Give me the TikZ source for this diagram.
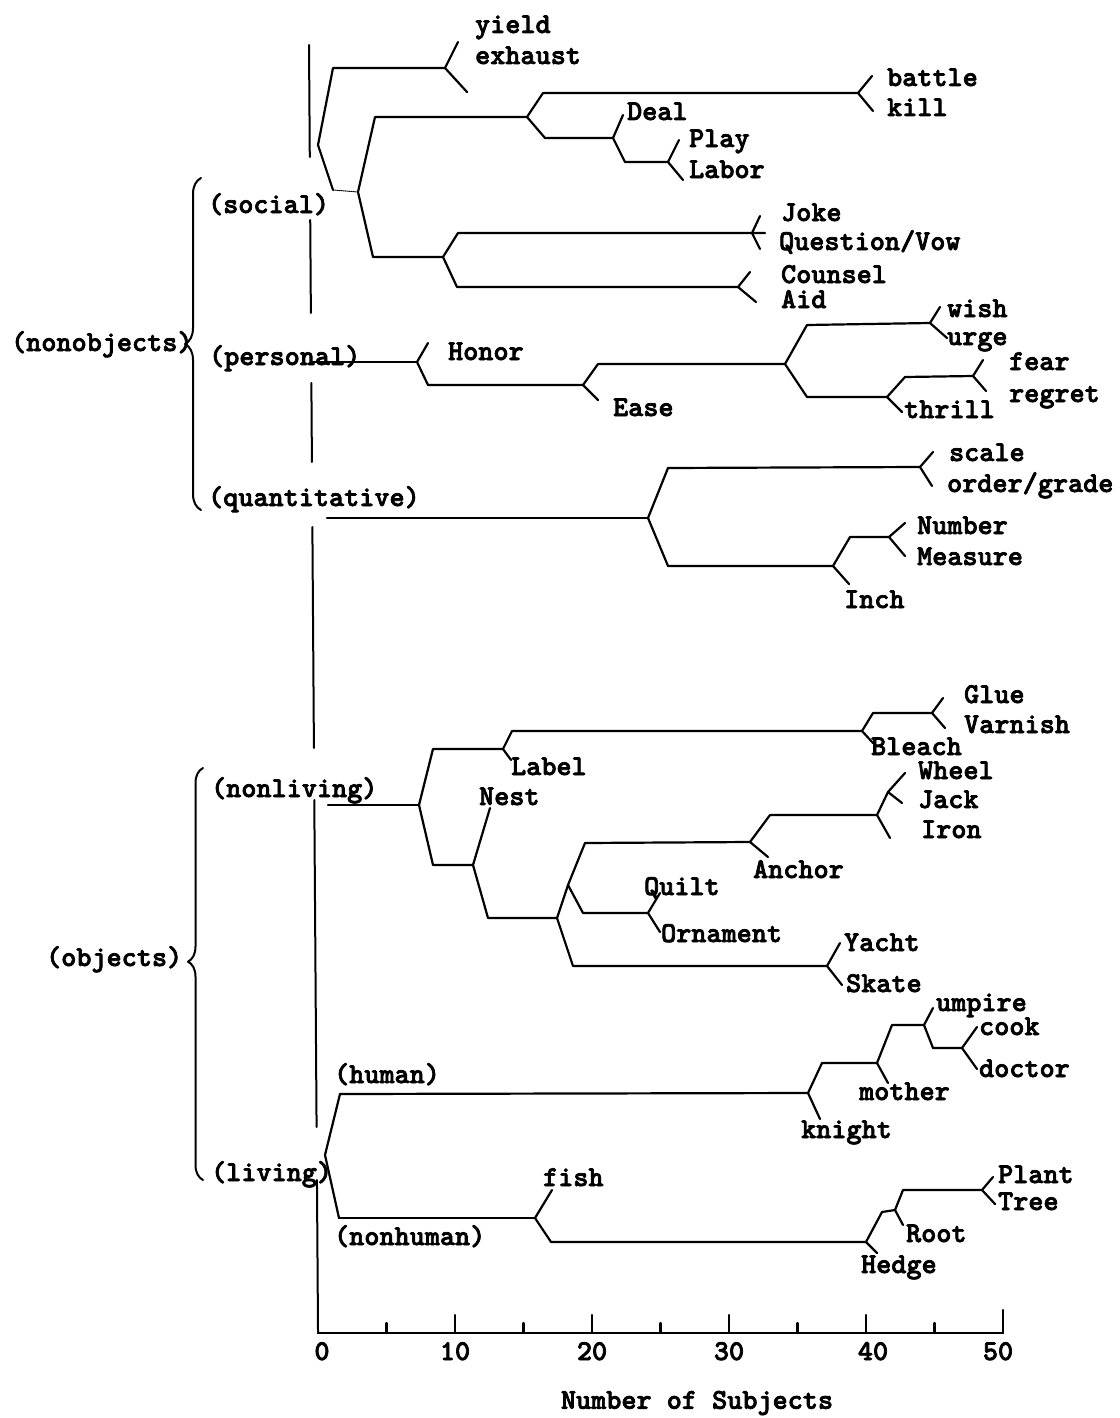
\documentclass[tikz,border=0pt]{standalone}
\usepackage{fontspec}
\newfontfamily\typer{lmmonolt10-bold.otf}[FakeBold=2.5]
\usetikzlibrary{decorations.pathreplacing}

\begin{document}
\begin{tikzpicture}[x=1pt, y=-1pt, line width=2.2pt, line cap=round, line join=round,
    every node/.style={font=\typer\fontsize{28.8}{30}\selectfont, inner sep=0pt},
    leaf/.style={anchor=base west, yshift=-8pt}]
    \useasboundingbox (0,0) rectangle (1119,1418);

    % Zero line, broken at the group labels
    \foreach \a/\b in {45/157,220/313,383/462,527/748,800/1127,1180/1333}
        \draw[line width=2pt] ({309+0.007*(\a-45)},\a) -- ({309+0.007*(\b-45)},\b);

    % Axis
    \draw (318,1333) -- (1003,1333);
    \foreach \n/\dx in {0/4,10/0,20/0,30/0,40/7,50/-5} {
        \draw ({318+13.7*\n},1333) -- ({318+13.7*\n},1315);
        \node[anchor=base, yshift=-10pt] (t\n) at ({318+13.7*\n+\dx},1350) {\n};
    }
    \draw (1003,1315) -- (1003,1310);
    \foreach \n in {5,15,...,45}
        \draw ({318+13.7*\n},1333) -- ({318+13.7*\n},1323);
    \node (xlab) at (697,1403) {Number of Subjects};

    % Braces
    \draw[line width=2pt, decorate, decoration={brace, amplitude=16pt}] (201,510) -- (201,178);
    \draw[line width=2pt, decorate, decoration={brace, amplitude=15pt, aspect=0.53}] (203,1180) -- (203,768);
    \node[leaf] (nonobj) at (10,343) {(nonobjects)};
    \node[leaf] (obj) at (45,958) {(objects)};

    % Group labels
    \node[leaf] (social) at (207,205) {(social)};
    \node[leaf] (personal) at (208,357) {(personal)};
    \node[leaf] (quant) at (207,498) {(quantitative)};
    \node[leaf] (nonliving) at (210,789) {(nonliving)};
    \node[leaf] (living) at (210,1173) {(living)};
    \node[leaf] (human) at (333,1075) {(human)};
    \node[leaf] (nonhuman) at (333,1237) {(nonhuman)};

    % Social
    \draw (445,68) -- (333,68) -- (318,145) -- (333,190);
    \draw (458,42) -- (445,68) -- (467,92);
    \draw[line width=1pt, densely dotted] (333,190) -- (358,192);
    \draw (527,117) -- (375,117) -- (358,192) -- (373,257) -- (443,257);
    \draw (858,93) -- (543,93) -- (527,117) -- (545,138) -- (613,138);
    \draw (872,76) -- (858,93) -- (873,111);
    \draw (623,115) -- (613,138) -- (625,162) -- (668,162);
    \draw (679,140) -- (668,162) -- (683,180);
    \draw (765,233) -- (458,233) -- (443,257) -- (457,287) -- (738,287);
    \draw (760,216) -- (752,233) -- (760,249);
    \draw (750,272) -- (738,287) -- (756,302);
    \node[leaf] (yield) at (474,25) {yield};
    \node[leaf] (exhaust) at (474,56) {exhaust};
    \node[leaf] (battle) at (886,78) {battle};
    \node[leaf] (kill) at (886,108) {kill};
    \node[leaf] (deal) at (626,112) {Deal};
    \node[leaf] (play) at (688,139) {Play};
    \node[leaf] (labor) at (688,170) {Labor};
    \node[leaf] (joke) at (780,213) {Joke};
    \node[leaf] (question) at (778,242) {Question/Vow};
    \node[leaf] (counsel) at (780,275) {Counsel};
    \node[leaf] (aid) at (780,300) {Aid};

    % Personal
    \draw (313,362) -- (417,362);
    \draw (428,343) -- (417,362) -- (428,385) -- (583,385);
    \draw (785,364) -- (598,364) -- (583,385) -- (598,400);
    \draw (930,323) -- (807,325) -- (785,364) -- (807,397) -- (887,397);
    \draw (940,307) -- (930,323) -- (947,338);
    \draw (973,376) -- (905,377) -- (887,397) -- (902,412);
    \draw (983,360) -- (973,376) -- (986,391);
    \node[leaf] (honor) at (447,352) {Honor};
    \node[leaf] (ease) at (612,408) {Ease};
    \node[leaf] (wish) at (946,309) {wish};
    \node[leaf] (urge) at (946,337) {urge};
    \node[leaf] (fear) at (1008,362) {fear};
    \node[leaf] (regret) at (1008,394) {regret};
    \node[leaf] (thrill) at (903,410) {thrill};

    % Quantitative
    \draw (327,518) -- (648,518);
    \draw (920,467) -- (668,468) -- (648,518) -- (668,566) -- (833,566);
    \draw (933,452) -- (920,467) -- (932,486);
    \draw (889,537) -- (850,537) -- (833,566) -- (849,584);
    \draw (905,523) -- (889,537) -- (905,556);
    \node[leaf] (scale) at (948,453) {scale};
    \node[leaf] (order) at (946,484) {order/grade};
    \node[leaf] (number) at (916,526) {Number};
    \node[leaf] (measure) at (916,557) {Measure};
    \node[leaf] (inch) at (843,600) {Inch};

    % Nonliving
    \draw (328,805) -- (419,805);
    \draw (503,749) -- (433,749) -- (419,805) -- (433,865) -- (473,865);
    \draw (862,731) -- (512,731) -- (503,749) -- (511,760);
    \draw (932,713) -- (873,713) -- (862,731) -- (873,743);
    \draw (943,698) -- (932,713) -- (945,728);
    \draw (490,808) -- (473,865) -- (488,918) -- (557,918);
    \draw (568,885) -- (557,918) -- (573,966) -- (827,966);
    \draw (750,842) -- (585,843) -- (568,885) -- (583,913) -- (648,913);
    \draw (660,893) -- (648,913) -- (660,932);
    \draw (877,815) -- (770,815) -- (750,842) -- (768,857);
    \draw (888,792) -- (877,815) -- (890,838);
    \draw (905,773) -- (888,792) -- (902,803);
    \draw (840,943) -- (827,966) -- (842,985);
    \node[leaf] (glue) at (963,695) {Glue};
    \node[leaf] (varnish) at (963,725) {Varnish};
    \node[leaf] (bleach) at (870,747) {Bleach};
    \node[leaf] (label) at (510,767) {Label};
    \node[leaf] (wheel) at (917,771) {Wheel};
    \node[leaf] (nest) at (478,797) {Nest};
    \node[leaf] (jack) at (917,800) {Jack};
    \node[leaf] (iron) at (920,830) {Iron};
    \node[leaf] (anchor) at (752,870) {Anchor};
    \node[leaf] (quilt) at (643,887) {Quilt};
    \node[leaf] (ornament) at (660,934) {Ornament};
    \node[leaf] (yacht) at (843,943) {Yacht};
    \node[leaf] (skate) at (845,984) {Skate};

    % Living
    \draw (340,1094) -- (325,1155) -- (339,1218);
    \draw (340,1094) -- (808,1093);
    \draw (877,1063) -- (822,1063) -- (808,1093) -- (820,1119);
    \draw (924,1025) -- (892,1025) -- (877,1063) -- (888,1083);
    \draw (933,1008) -- (924,1025) -- (933,1048) -- (962,1048);
    \draw (977,1027) -- (962,1048) -- (977,1069);
    \draw (339,1218) -- (535,1218);
    \draw (552,1190) -- (535,1218) -- (551,1242) -- (866,1242);
    \draw (895,1210) -- (882,1212) -- (866,1242) -- (877,1253);
    \draw (982,1190) -- (903,1190) -- (895,1210) -- (903,1225);
    \draw (993,1177) -- (982,1190) -- (995,1204);
    \node[leaf] (umpire) at (935,1003) {umpire};
    \node[leaf] (cook) at (978,1027) {cook};
    \node[leaf] (doctor) at (978,1069) {doctor};
    \node[leaf] (mother) at (858,1092) {mother};
    \node[leaf] (knight) at (800,1130) {knight};
    \node[leaf] (fish) at (542,1178) {fish};
    \node[leaf] (plant) at (997,1175) {Plant};
    \node[leaf] (tree) at (997,1202) {Tree};
    \node[leaf] (root) at (905,1234) {Root};
    \node[leaf] (hedge) at (860,1265) {Hedge};
\end{tikzpicture}
\end{document}
